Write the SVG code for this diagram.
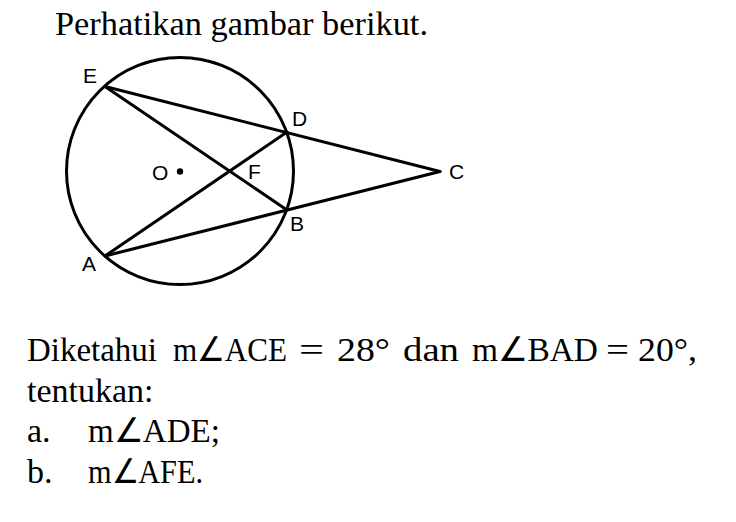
<svg xmlns="http://www.w3.org/2000/svg" width="736" height="522" viewBox="0 0 736 522">
<style>
.ln{fill:none;stroke:#000;stroke-width:3;stroke-linecap:round}
.lbl{font-family:"Liberation Sans",Arial,sans-serif;font-size:21px;fill:#000}
.tx{font-family:"Liberation Serif","Times New Roman",serif;font-size:34px;fill:#000}
</style>
<rect width="736" height="522" fill="#fff"/>
<text class="tx" x="55" y="35" textLength="373" lengthAdjust="spacingAndGlyphs">Perhatikan gambar berikut.</text>
<g id="circle"><circle class="ln" cx="180" cy="171" r="113.5"/></g>
<g id="connectors">
<line class="ln" x1="105" y1="86.5" x2="440" y2="171.5"/>
<line class="ln" x1="105" y1="256" x2="440" y2="171.5"/>
<line class="ln" x1="105" y1="86.5" x2="287" y2="210"/>
<line class="ln" x1="105" y1="256" x2="287" y2="132"/>
</g>
<g id="node-E"><text class="lbl" x="83" y="83">E</text></g>
<g id="node-D"><text class="lbl" x="292" y="126">D</text></g>
<g id="node-C"><text class="lbl" x="449" y="179">C</text></g>
<g id="node-B"><text class="lbl" x="290" y="231">B</text></g>
<g id="node-A"><text class="lbl" x="82" y="271">A</text></g>
<g id="node-F"><text class="lbl" x="248" y="179">F</text></g>
<g id="node-O"><circle cx="180" cy="171.5" r="3.2" fill="#000"/><text class="lbl" x="152" y="180">O</text></g>
<text class="tx" x="27" y="361" textLength="130" lengthAdjust="spacingAndGlyphs">Diketahui</text>
<text class="tx" x="173" y="361" textLength="114" lengthAdjust="spacingAndGlyphs">m∠ACE</text>
<text class="tx" x="299" y="361" textLength="25" lengthAdjust="spacingAndGlyphs">=</text>
<text class="tx" x="337" y="361" textLength="53" lengthAdjust="spacingAndGlyphs">28°</text>
<text class="tx" x="403" y="361" textLength="56" lengthAdjust="spacingAndGlyphs">dan</text>
<text class="tx" x="472" y="361" textLength="126" lengthAdjust="spacingAndGlyphs">m∠BAD</text>
<text class="tx" x="606" y="361" textLength="23" lengthAdjust="spacingAndGlyphs">=</text>
<text class="tx" x="638" y="361" textLength="59" lengthAdjust="spacingAndGlyphs">20°,</text>
<text class="tx" x="27" y="402">tentukan:</text>
<text class="tx" x="27" y="442">a.</text>
<text class="tx" x="88" y="442" textLength="132" lengthAdjust="spacingAndGlyphs">m∠ADE;</text>
<text class="tx" x="27" y="483">b.</text>
<text class="tx" x="88" y="483" textLength="115" lengthAdjust="spacingAndGlyphs">m∠AFE.</text>
</svg>
